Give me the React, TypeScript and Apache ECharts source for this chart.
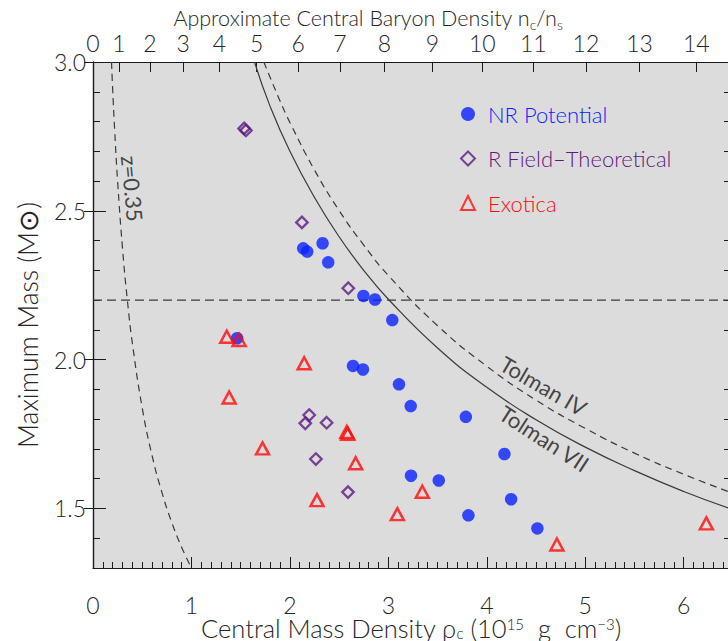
import React, { useEffect, useRef } from "react";
import * as echarts from "echarts";

// ---- data ----
const nrRho = [2.135, 2.176, 2.332, 2.389, 2.747, 2.864, 3.04, 1.464, 2.641, 2.742, 3.108, 3.227, 3.787, 4.179, 3.23, 3.512, 4.247, 3.813, 4.514];
const nrMass = [2.374, 2.363, 2.391, 2.327, 2.214, 2.202, 2.133, 2.072, 1.979, 1.967, 1.917, 1.844, 1.808, 1.683, 1.61, 1.594, 1.531, 1.477, 1.433];

const rfRho = [1.535, 1.553, 2.122, 2.593, 2.196, 2.156, 2.373, 2.264, 2.59];
const rfMass = [2.777, 2.77, 2.461, 2.24, 1.814, 1.786, 1.788, 1.666, 1.555];

const exRho = [1.359, 1.484, 2.145, 1.383, 2.578, 2.588, 1.722, 2.668, 2.275, 3.345, 3.091, 4.712, 6.23];
const exMass = [2.077, 2.066, 1.988, 1.873, 1.757, 1.751, 1.702, 1.652, 1.528, 1.556, 1.481, 1.379, 1.45];

// Tolman VII (solid) and Tolman IV (dashed) limits
const t7Rho = [1.64, 1.8, 2.0, 2.25, 2.5, 2.75, 3.0, 3.5, 4.0, 4.5, 5.0, 5.5, 6.0, 6.46];
const t7Mass = [3.0, 2.85, 2.70, 2.545, 2.413, 2.30, 2.203, 2.039, 1.907, 1.798, 1.706, 1.627, 1.557, 1.501];
const t4Rho = [1.735, 1.9, 2.0, 2.25, 2.5, 2.75, 3.0, 3.5, 4.0, 4.5, 5.0, 5.5, 6.0, 6.46];
const t4Mass = [3.0, 2.869, 2.797, 2.637, 2.501, 2.385, 2.283, 2.114, 1.978, 1.864, 1.769, 1.686, 1.615, 1.556];
// z = 0.35 redshift line
const zRho = [0.188, 0.2, 0.22, 0.25, 0.3, 0.35, 0.4, 0.5, 0.6, 0.7, 0.8, 0.9, 1.0];
const zMass = [3.0, 2.907, 2.772, 2.6, 2.373, 2.197, 2.055, 1.838, 1.678, 1.554, 1.453, 1.37, 1.3];
// horizontal reference mass
const refMass = 2.2;

// axes
const xMin = 0;
const xMax = 6.46;
const yMin = 1.3;
const yMax = 3.0;
const bottomTicks = [0, 1, 2, 3, 4, 5, 6];
const leftTicks = [1.5, 2.0, 2.5, 3.0];
const topTickLabels = ["0", "1", "2", "3", "4", "5", "6", "7", "8", "9", "10", "11", "12", "13", "14"];
const topTickRho = [0, 0.264, 0.577, 0.915, 1.285, 1.662, 2.085, 2.509, 2.959, 3.448, 3.954, 4.473, 5.007, 5.552, 6.128];

// annotations
const noteText = ["Tolman IV", "Tolman VII", "z=0.35"];
const noteRho = [4.575, 4.583, 0.4];
const noteMass = [1.912, 1.735, 2.575];
const noteAngle = [-30, -33, -84.5];

const seriesNames = ["NR Potential", "R Field\u2013Theoretical", "Exotica"];
const BLUE = "#0a22ff";
const PURPLE = "#5c1a82";
const RED = "#ff0a0a";
const FONT = "Lato";
const FW = 300;
const TXT = "#262626";

const zip = (a: number[], b: number[]) => a.map((v, i) => [v, b[i]]);

const minorX: number[] = [];
for (let i = 1; i < 65; i++) if (i % 10 !== 0) minorX.push(i / 10);
const minorY: number[] = [];
for (let i = 14; i < 30; i++) if (i % 5 !== 0) minorY.push(i / 10);

export default function App() {
  const ref = useRef<HTMLDivElement>(null);
  useEffect(() => {
    document.body.style.margin = "0";
    const chart = echarts.init(ref.current!, undefined, { renderer: "svg" });
    const axisLine = { show: true, lineStyle: { color: "#1a1a1a", width: 1.2 } };
    const hidden = { show: false };
    const txt = (size: number, extra: any = {}) => ({ fontSize: size, color: TXT, fontFamily: FONT, fontWeight: FW, ...extra });
    const option: any = {
      animation: false,
      backgroundColor: "#ffffff",
      textStyle: { fontFamily: FONT, fontWeight: FW },
      grid: {
        left: 93,
        right: -1,
        top: 62,
        bottom: 73,
        show: true,
        backgroundColor: "#dcdcdc",
        borderWidth: 0,
        containLabel: false,
        outerBoundsMode: "none",
      },
      xAxis: [
        {
          type: "value",
          position: "bottom",
          min: xMin,
          max: xMax,
          axisLine,
          splitLine: hidden,
          axisTick: { show: true, inside: true, length: 11, customValues: bottomTicks, lineStyle: { color: "#1a1a1a" } },
          axisLabel: { customValues: bottomTicks, margin: 25, ...txt(23) },
          name: "{t|Central Mass Density \u03c1}{sub|c}{t| (10}{sup|15}{t|  g  cm}{sup|\u22123}{t|)}",
          nameLocation: "middle",
          nameGap: 48,
          nameMoveOverlap: false,
          nameTextStyle: {
            rich: {
              t: txt(25.5, { lineHeight: 24 }),
              sub: txt(15, { lineHeight: 14, verticalAlign: "bottom" }),
              sup: txt(15, { lineHeight: 14, verticalAlign: "top" }),
            },
          },
        },
        {
          type: "value",
          position: "top",
          min: xMin,
          max: xMax,
          axisLine,
          splitLine: hidden,
          axisTick: { show: true, inside: true, length: 10, customValues: topTickRho, lineStyle: { color: "#1a1a1a" } },
          axisLabel: {
            customValues: topTickRho,
            margin: 8,
            ...txt(23),
            formatter: (v: number) => {
              let best = 0;
              topTickRho.forEach((r, i) => {
                if (Math.abs(r - v) < Math.abs(topTickRho[best] - v)) best = i;
              });
              return topTickLabels[best];
            },
          },
          name: "{t|Approximate Central Baryon Density n}{sub|c}{t|/n}{sub|s}",
          nameLocation: "middle",
          nameGap: 31,
          nameMoveOverlap: false,
          nameTextStyle: {
            padding: [0, 86, 0, 0],
            rich: {
              t: txt(21.5, { lineHeight: 27 }),
              sub: txt(14, { lineHeight: 18, verticalAlign: "bottom" }),
            },
          },
        },
        {
          type: "value",
          position: "bottom",
          min: xMin,
          max: xMax,
          axisLine: hidden,
          splitLine: hidden,
          axisLabel: hidden,
          axisTick: { show: true, inside: true, length: 6, customValues: minorX, lineStyle: { color: "#1a1a1a" } },
        },
      ],
      yAxis: [
        {
          type: "value",
          position: "left",
          min: yMin,
          max: yMax,
          axisLine,
          splitLine: hidden,
          axisTick: { show: true, inside: true, length: 13, customValues: leftTicks, lineStyle: { color: "#1a1a1a" } },
          axisLabel: {
            customValues: leftTicks,
            margin: 7,
            ...txt(23),
            formatter: (v: number) => v.toFixed(1),
          },
          name: "Maximum Mass (M\u2299)",
          nameLocation: "middle",
          nameGap: 52,
          nameMoveOverlap: false,
          nameTextStyle: txt(26.5, { padding: [0, 20, 0, 0] }),
        },
        {
          type: "value",
          position: "left",
          min: yMin,
          max: yMax,
          axisLine: hidden,
          splitLine: hidden,
          axisLabel: hidden,
          axisTick: { show: true, inside: true, length: 7, customValues: minorY, lineStyle: { color: "#1a1a1a" } },
        },
        {
          type: "value",
          position: "right",
          min: yMin,
          max: yMax,
          axisLine,
          splitLine: hidden,
          axisLabel: hidden,
          axisTick: { show: true, inside: true, length: 9, customValues: leftTicks, lineStyle: { color: "#1a1a1a" } },
        },
        {
          type: "value",
          position: "right",
          min: yMin,
          max: yMax,
          axisLine: hidden,
          splitLine: hidden,
          axisLabel: hidden,
          axisTick: { show: true, inside: true, length: 5, customValues: minorY, lineStyle: { color: "#1a1a1a" } },
        },
      ],
      legend: {
        orient: "vertical",
        left: 455,
        top: 98,
        itemWidth: 14,
        itemHeight: 14,
        itemGap: 22.5,
        textStyle: { fontSize: 22, lineHeight: 22, fontFamily: FONT, fontWeight: FW, padding: [0, 0, 0, 8] },
        data: [
          { name: seriesNames[0], textStyle: { color: BLUE } },
          { name: seriesNames[1], textStyle: { color: PURPLE } },
          { name: seriesNames[2], textStyle: { color: RED } },
        ],
      },
      series: [
        {
          type: "line",
          data: zip(zRho, zMass),
          smooth: true,
          symbol: "none",
          silent: true,
          lineStyle: { color: "#3a3a3a", width: 1.2, type: [7, 5] },
          z: 1,
        },
        {
          type: "line",
          data: zip(t7Rho, t7Mass),
          smooth: true,
          symbol: "none",
          silent: true,
          lineStyle: { color: "#3a3a3a", width: 1.2 },
          z: 1,
        },
        {
          type: "line",
          data: zip(t4Rho, t4Mass),
          smooth: true,
          symbol: "none",
          silent: true,
          lineStyle: { color: "#3a3a3a", width: 1.2, type: [7, 5] },
          z: 1,
        },
        {
          type: "line",
          data: [[xMin, refMass], [xMax, refMass]],
          symbol: "none",
          silent: true,
          lineStyle: { color: "#3a3a3a", width: 1.4, type: [9, 5] },
          z: 1,
        },
        {
          name: seriesNames[0],
          type: "scatter",
          data: zip(nrRho, nrMass),
          symbol: "circle",
          symbolSize: 12.5,
          itemStyle: { color: BLUE },
          z: 3,
        },
        {
          name: seriesNames[1],
          type: "scatter",
          data: zip(rfRho, rfMass),
          symbol: "diamond",
          symbolSize: 11.5,
          itemStyle: { color: "rgba(0,0,0,0)", borderColor: PURPLE, borderWidth: 2.3 },
          z: 4,
        },
        {
          name: seriesNames[2],
          type: "scatter",
          data: zip(exRho, exMass),
          symbol: "triangle",
          symbolSize: [13, 12],
          itemStyle: { color: "rgba(0,0,0,0)", borderColor: RED, borderWidth: 2.5 },
          z: 5,
        },
        {
          type: "scatter",
          silent: true,
          symbolSize: 0,
          z: 6,
          data: noteText.map((t, i) => ({
            name: t,
            value: [noteRho[i], noteMass[i]],
            label: { rotate: noteAngle[i] },
          })),
          label: {
            show: true,
            position: "inside",
            formatter: "{b}",
            fontSize: 22,
            fontWeight: 400,
            color: "#1a1a1a",
            fontFamily: FONT,
          },
        },
      ],
    };
    chart.setOption(option);
    return () => chart.dispose();
  }, []);
  return <div ref={ref} style={{ width: 728, height: 641 }} />;
}
